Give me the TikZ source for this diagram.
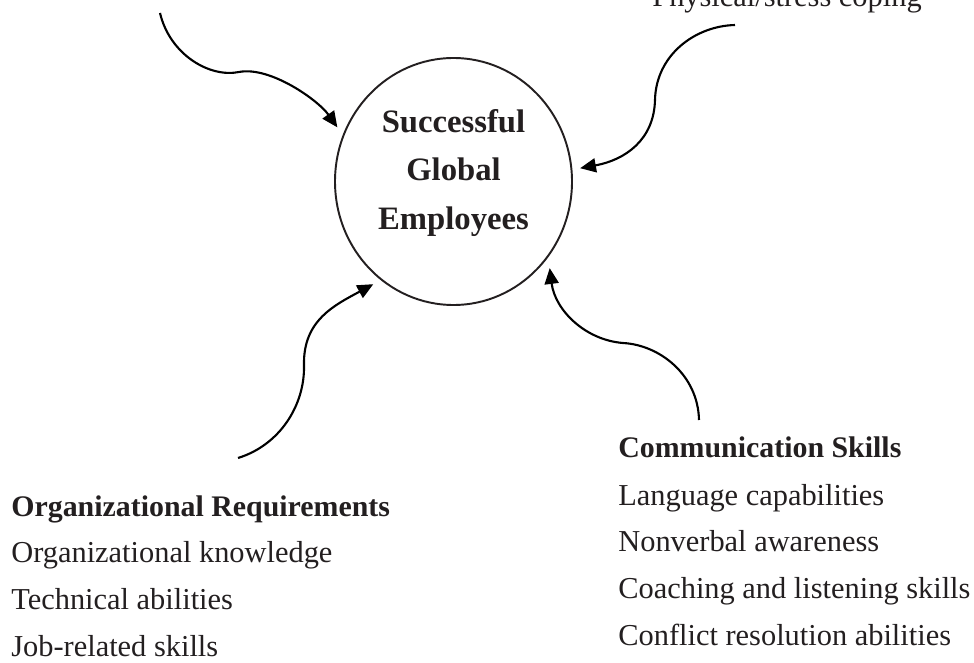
\documentclass[tikz,border=0pt]{standalone}
\usepackage{fontspec}
\setmainfont{Liberation Serif}
\usetikzlibrary{arrows.meta,shapes.geometric}

\definecolor{inkgray}{HTML}{231F20}

\tikzset{
    conn/.style={line width=1.2pt, -{Triangle[length=9pt,width=8pt]}},
    itemtext/.style={anchor=base west, inner sep=0pt, text=inkgray, font=\fontsize{17.3}{20}\selectfont},
    headtext/.style={itemtext, font=\fontsize{17}{20}\selectfont\bfseries},
}

\begin{document}
\begin{tikzpicture}

    \useasboundingbox (0,0) rectangle (19.48,13.24);

    % Centre
    \node[ellipse, draw=inkgray, line width=1.1pt, minimum width=4.74cm, minimum height=4.94cm, outer sep=5pt] (emp) at (9.07,9.61) {};
    \node[align=center, text=inkgray, font=\fontsize{18.6}{27.6}\selectfont\bfseries] (emptext) at (9.07,9.78) {Successful\\Global\\Employees};

    % Top left
    \coordinate (tl) at (3.20,12.98);
    \draw[conn] (tl) .. controls (3.40,12.14) and (4.20,11.68) .. (4.78,11.80)
        .. controls (5.40,11.92) and (6.36,11.24) .. (emp.155);

    % Top right
    \node[itemtext] (phys) at (13.04,13.10) {Physical/stress coping};
    \coordinate (tr) at (14.70,12.74);
    \draw[conn] (tr) .. controls (13.90,12.72) and (13.12,12.14) .. (13.10,11.24)
        .. controls (13.08,10.44) and (12.50,10.04) .. (emp.6);

    % Organizational requirements
    \coordinate (bl) at (4.76,4.08);
    \draw[conn] (bl) .. controls (5.60,4.34) and (6.10,5.14) .. (6.08,5.94)
        .. controls (6.06,6.84) and (6.70,7.14) .. (emp.232);
    \node[headtext] (orgreq) at (0.22,2.92) {Organizational Requirements};
    \node[itemtext] (orgknow) at (0.22,2.00) {Organizational knowledge};
    \node[itemtext] (techab) at (0.22,1.06) {Technical abilities};
    \node[itemtext] (jobsk) at (0.22,0.12) {Job-related skills};

    % Communication skills
    \coordinate (br) at (13.98,4.84);
    \draw[conn] (br) .. controls (13.96,5.74) and (13.20,6.34) .. (12.46,6.38)
        .. controls (11.70,6.44) and (11.10,7.04) .. (emp.318);
    \node[headtext] (commsk) at (12.36,4.10) {Communication Skills};
    \node[itemtext] (langcap) at (12.36,3.14) {Language capabilities};
    \node[itemtext] (nonverb) at (12.36,2.22) {Nonverbal awareness};
    \node[itemtext] (coach) at (12.36,1.28) {Coaching and listening skills};
    \node[itemtext] (conflict) at (12.36,0.34) {Conflict resolution abilities};

\end{tikzpicture}
\end{document}
